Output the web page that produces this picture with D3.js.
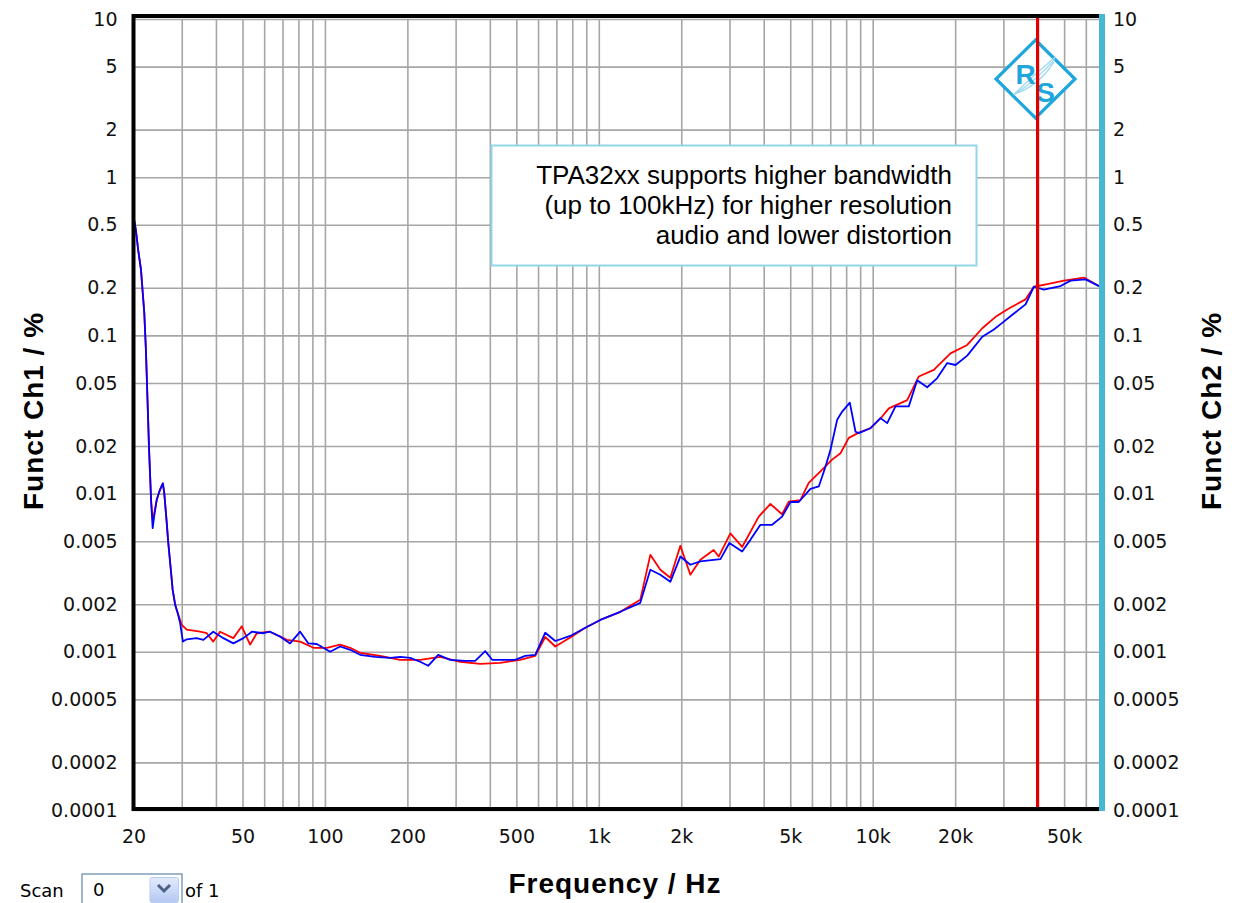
<!DOCTYPE html>
<html>
<head>
<meta charset="utf-8">
<script src="https://cdn.jsdelivr.net/npm/d3@7"></script>
<style>
  html, body { margin: 0; padding: 0; background: #fff; }
  svg { display: block; }
</style>
</head>
<body>
<svg id="chart" width="1234" height="903"></svg>
<script>
// ---------------- DATA ----------------
const xTickValues = [20, 50, 100, 200, 500, 1000, 2000, 5000, 10000, 20000, 50000];
const xTickLabels = ["20", "50", "100", "200", "500", "1k", "2k", "5k", "10k", "20k", "50k"];
const yTickValues = [10, 5, 2, 1, 0.5, 0.2, 0.1, 0.05, 0.02, 0.01, 0.005, 0.002, 0.001, 0.0005, 0.0002, 0.0001];
const yTickLabels = ["10", "5", "2", "1", "0.5", "0.2", "0.1", "0.05", "0.02", "0.01", "0.005", "0.002", "0.001", "0.0005", "0.0002", "0.0001"];

// Channel 1 (red)
const redFreq = [20, 20.4, 20.8, 21.3, 21.6, 21.9, 22.2, 22.5, 22.8, 23.2, 23.5, 23.8, 24.3, 25.0, 25.6, 25.9, 26.4, 26.8, 27.3, 27.8, 28.4, 29.0,
  30.0, 31.3, 35.0, 37.0, 39.1, 41.4, 46.3, 49.7, 53.3, 56.4, 63.0, 72.6, 81.2, 90.8, 101.6, 113.6, 123.6,
  134.4, 159.1, 188.3, 222.7, 263.5, 311.8, 369.0, 436.4, 516.7, 586.1, 637.5, 693.5, 786.6, 892.6, 1012.8, 1197.7, 1417, 1542, 1677, 1824, 1985, 2159,
  2348, 2626, 2740, 3022, 3337, 3836, 4232, 4669, 4937, 5446, 5840, 6444, 7110, 7628, 8178, 8898, 9817, 10830, 11450, 13366, 14737, 16716, 19232, 22144, 25131, 28097, 31418, 36156, 38763, 43403, 49911, 59050, 66990];
const redVal = [0.565, 0.465, 0.347, 0.26, 0.189, 0.138, 0.081, 0.039, 0.0189, 0.0089, 0.0068, 0.0075, 0.0091, 0.0106, 0.0116, 0.0101, 0.0068, 0.00486, 0.00346, 0.00246, 0.00198, 0.00176,
  0.00148, 0.00138, 0.00134, 0.00131, 0.00116, 0.00134, 0.00122, 0.00145, 0.00111, 0.00131, 0.00134, 0.00119, 0.00116, 0.00106, 0.00106, 0.00111, 0.00106,
  0.000986, 0.000943, 0.00089, 0.00089, 0.00093, 0.000865, 0.00084, 0.000852, 0.00089, 0.000943, 0.00124, 0.00108, 0.00123, 0.00142, 0.00159, 0.00179, 0.00213, 0.0041, 0.0033, 0.00294, 0.00468, 0.00307,
  0.00382, 0.0044, 0.004, 0.0056, 0.0046, 0.00715, 0.0086, 0.0074, 0.0089, 0.0091, 0.0117, 0.0138, 0.0164, 0.018, 0.0225, 0.0243, 0.0259, 0.0307, 0.0346, 0.039, 0.055, 0.0605, 0.077, 0.087, 0.111, 0.131, 0.148, 0.169, 0.203, 0.211, 0.222, 0.232, 0.205];

// Channel 2 (blue)
const blueFreq = [20, 20.4, 20.8, 21.3, 21.6, 21.9, 22.2, 22.5, 22.8, 23.2, 23.5, 23.8, 24.3, 25.0, 25.6, 25.9, 26.4, 26.8, 27.3, 27.8, 28.4, 29.0, 29.6,
  30.3, 31.3, 34.0, 36.0, 39.1, 42.6, 46.3, 50.4, 54.1, 59.6, 63.0, 68.6, 74.6, 81.2, 87.0, 93.4, 104.5, 113.6, 123.6,
  134.4, 152.5, 173.1, 188.3, 204.8, 222.7, 238.2, 259.1, 286.6, 325.2, 353.7, 384.8, 408.1, 455.1, 495.2, 538.6, 586.1, 637.5, 693.5, 786.6, 892.6, 1012.8, 1197.7, 1417, 1542, 1677, 1824, 1985, 2159,
  2348, 2780, 2997, 3337, 3577, 3891, 4293, 4669, 5008, 5370, 5926, 6356, 6723, 7013, 7418, 7738, 8250, 8655, 8898, 9817, 10677, 11296, 12113, 13546, 14537, 15815, 17204, 18711, 20069, 22144, 25131, 27699, 29728, 32339, 36156, 38763, 42177, 48541, 52800, 59900, 66990];
const blueVal = [0.565, 0.465, 0.347, 0.26, 0.189, 0.138, 0.081, 0.039, 0.0189, 0.0089, 0.00605, 0.0072, 0.0091, 0.0106, 0.0116, 0.0101, 0.0068, 0.00486, 0.00346, 0.00246, 0.00198, 0.00176, 0.00152,
  0.00116, 0.0012, 0.00122, 0.00119, 0.00134, 0.00122, 0.00113, 0.00122, 0.00134, 0.00131, 0.00134, 0.00125, 0.00113, 0.00134, 0.00113, 0.00112, 0.001, 0.00108, 0.00103,
  0.000957, 0.00093, 0.000916, 0.00093, 0.000916, 0.000865, 0.000816, 0.000957, 0.00089, 0.000877, 0.000877, 0.00101, 0.00089, 0.00089, 0.00089, 0.000943, 0.000957, 0.00132, 0.00117, 0.00126, 0.00142, 0.00159, 0.00179, 0.00204, 0.0033, 0.00307, 0.00277, 0.004, 0.00355,
  0.00373, 0.00385, 0.00487, 0.0043, 0.0051, 0.00635, 0.00635, 0.00715, 0.00885, 0.00885, 0.0107, 0.0111, 0.0148, 0.0189, 0.0293, 0.033, 0.0376, 0.0246, 0.0241, 0.0259, 0.03, 0.0279, 0.0356, 0.0356, 0.052, 0.047, 0.0537, 0.0668, 0.065, 0.0745, 0.098, 0.109, 0.12, 0.135, 0.157, 0.203, 0.195, 0.205, 0.222, 0.226, 0.205];

const markerFreq = 40000;   // red cursor line
const annotationLines = ["TPA32xx supports higher bandwidth", "(up to 100kHz) for higher resolution", "audio and lower distortion"];

// ---------------- LAYOUT ----------------
const W = 1234, H = 903;
const plot = { left: 133.5, right: 1100, top: 19, bottom: 810 };
const svg = d3.select("#chart");
svg.append("rect").attr("width", W).attr("height", H).attr("fill", "#fff");

const x = d3.scaleLog().domain([20, 67600]).range([plot.left, plot.right]);
const y = d3.scaleLog().domain([0.0001, 10]).range([plot.bottom, plot.top]);

const tickFont = "'DejaVu Sans', Verdana, sans-serif";
const gridColor = "#a6a6a6";

// vertical grid (1..9 per decade)
const xGrid = [];
for (let dec = 10; dec <= 10000; dec *= 10) {
  for (let m = 1; m <= 9; m++) {
    const v = m * dec;
    if (v > 20 && v < 67600) xGrid.push(v);
  }
}
svg.append("g")
  .attr("transform", `translate(0,${plot.bottom})`)
  .call(d3.axisBottom(x).tickValues(xGrid).tickSize(-(plot.bottom - plot.top)).tickFormat(""))
  .call(g => g.select(".domain").remove())
  .call(g => g.selectAll("line").attr("stroke", gridColor).attr("stroke-width", 1.6));

// horizontal grid (1,2,5)
svg.append("g")
  .attr("transform", `translate(${plot.left},0)`)
  .call(d3.axisLeft(y).tickValues(yTickValues).tickSize(-(plot.right - plot.left)).tickFormat(""))
  .call(g => g.select(".domain").remove())
  .call(g => g.selectAll("line").attr("stroke", gridColor).attr("stroke-width", 1.6));

// R&S logo
const logo = svg.append("g").attr("transform", "translate(1035.5,79)");
logo.append("path").attr("d", "M0,-39 L39.5,0 L0,39 L-39.5,0 Z")
  .attr("fill", "#fff").attr("stroke", "#1fa6dc").attr("stroke-width", 3.2);
[0, 4, 8].forEach(o => {
  logo.append("path")
    .attr("d", `M${-22 + o * 0.3},${16 - o * 0.2} Q${-4 + o},${-2 + o} ${20 - o * 0.2},${-22 + o * 0.6}`)
    .attr("fill", "none").attr("stroke", "#9fd9f0").attr("stroke-width", 1.4);
});
logo.append("text").attr("x", -10).attr("y", 5).attr("text-anchor", "middle")
  .attr("font-family", "'Liberation Sans', Arial, sans-serif").attr("font-size", 28).attr("font-weight", "bold")
  .attr("fill", "#1fa6dc").text("R");
logo.append("text").attr("x", 10).attr("y", 23).attr("text-anchor", "middle")
  .attr("font-family", "'Liberation Sans', Arial, sans-serif").attr("font-size", 28).attr("font-weight", "bold")
  .attr("fill", "#1fa6dc").text("S");

// annotation box
svg.append("rect").attr("x", 491.5).attr("y", 145.5).attr("width", 485).attr("height", 120)
  .attr("fill", "#fff").attr("stroke", "#94d6e6").attr("stroke-width", 2);
svg.append("g").selectAll("text").data(annotationLines).join("text")
  .attr("x", 952).attr("y", (d, i) => 184 + i * 30)
  .attr("text-anchor", "end")
  .attr("font-family", "'Liberation Sans', Arial, sans-serif")
  .attr("font-size", 26).attr("fill", "#000")
  .text(d => d);

// data lines
const line = d3.line().x(d => x(d[0])).y(d => y(d[1]));
const redData = redFreq.map((f, i) => [f, redVal[i]]);
const blueData = blueFreq.map((f, i) => [f, blueVal[i]]);
svg.append("path").datum(redData).attr("d", line)
  .attr("fill", "none").attr("stroke", "#ff0000").attr("stroke-width", 1.8).attr("stroke-linejoin", "round");
svg.append("path").datum(blueData).attr("d", line)
  .attr("fill", "none").attr("stroke", "#0000ff").attr("stroke-width", 1.8).attr("stroke-linejoin", "round");

// red cursor
svg.append("line").attr("x1", x(markerFreq)).attr("x2", x(markerFreq))
  .attr("y1", plot.top - 3).attr("y2", plot.bottom)
  .attr("stroke", "#e00000").attr("stroke-width", 3.2);

// frame
svg.append("path")
  .attr("d", `M${plot.right},${plot.top - 3} H${plot.left} V${plot.bottom - 1} H${plot.right}`)
  .attr("fill", "none").attr("stroke", "#000").attr("stroke-width", 4);
svg.append("rect").attr("x", plot.right - 1).attr("y", plot.top - 5).attr("width", 6)
  .attr("height", plot.bottom - plot.top + 6).attr("fill", "#46b8d4");

// axes labels
const leftAxis = svg.append("g").attr("transform", `translate(${plot.left},0)`)
  .call(d3.axisLeft(y).tickValues(yTickValues).tickSize(0).tickPadding(16).tickFormat((d, i) => yTickLabels[i]));
const rightAxis = svg.append("g").attr("transform", `translate(${plot.right},0)`)
  .call(d3.axisRight(y).tickValues(yTickValues).tickSize(0).tickPadding(13).tickFormat((d, i) => yTickLabels[i]));
const bottomAxis = svg.append("g").attr("transform", `translate(0,${plot.bottom})`)
  .call(d3.axisBottom(x).tickValues(xTickValues).tickSize(0).tickPadding(20).tickFormat((d, i) => xTickLabels[i]));
[leftAxis, rightAxis, bottomAxis].forEach(a => {
  a.select(".domain").remove();
  a.selectAll("text").attr("font-family", tickFont).attr("font-size", 19).attr("fill", "#111");
});

// axis titles
const titleFont = "'Liberation Sans', Arial, sans-serif";
svg.append("text").attr("transform", "translate(43,411) rotate(-90)")
  .attr("text-anchor", "middle").attr("font-family", titleFont).attr("font-weight", "bold")
  .attr("font-size", 28).attr("letter-spacing", 1).text("Funct Ch1 / %");
svg.append("text").attr("transform", "translate(1221,411) rotate(-90)")
  .attr("text-anchor", "middle").attr("font-family", titleFont).attr("font-weight", "bold")
  .attr("font-size", 28).attr("letter-spacing", 1).text("Funct Ch2 / %");
svg.append("text").attr("x", 615).attr("y", 893)
  .attr("text-anchor", "middle").attr("font-family", titleFont).attr("font-weight", "bold")
  .attr("font-size", 28).attr("letter-spacing", 1).text("Frequency / Hz");

// scan widget
const ui = svg.append("g");
ui.append("text").attr("x", 20).attr("y", 897).attr("font-family", tickFont).attr("font-size", 18).text("Scan");
ui.append("rect").attr("x", 82).attr("y", 874).attr("width", 100).attr("height", 32)
  .attr("fill", "#fff").attr("stroke", "#7f9db9").attr("stroke-width", 1.5);
ui.append("text").attr("x", 93).attr("y", 896).attr("font-family", tickFont).attr("font-size", 18).text("0");
const grad = svg.append("defs").append("linearGradient").attr("id", "btn").attr("x1", 0).attr("y1", 0).attr("x2", 0).attr("y2", 1);
grad.append("stop").attr("offset", "0%").attr("stop-color", "#e3ecfd");
grad.append("stop").attr("offset", "100%").attr("stop-color", "#b4c8f2");
ui.append("rect").attr("x", 150).attr("y", 877.5).attr("width", 28.5).attr("height", 25).attr("rx", 2)
  .attr("fill", "url(#btn)").attr("stroke", "#b9cdf3");
ui.append("path").attr("d", "M158,885 L164,891 L170,885").attr("fill", "none")
  .attr("stroke", "#4d6185").attr("stroke-width", 3);
ui.append("text").attr("x", 185).attr("y", 897).attr("font-family", tickFont).attr("font-size", 18).text("of 1");
</script>
</body>
</html>
